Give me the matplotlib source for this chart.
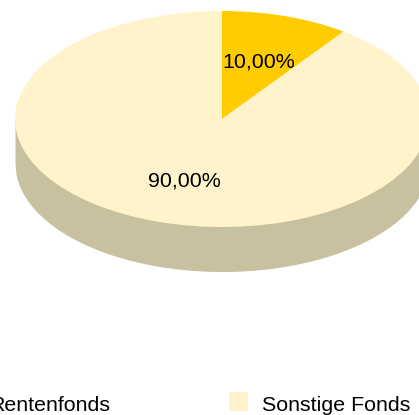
import matplotlib
matplotlib.use('Agg')
import matplotlib.pyplot as plt
import numpy as np
from matplotlib.patches import Rectangle

labels = ['Rentenfonds', 'Sonstige Fonds']
values = [10.0, 90.0]
value_labels = ['10,00%', '90,00%']
colors = ['#FFCC00', '#FFF3CC']
side_color = '#C7C1A0'

plt.rcParams['font.family'] = ['Liberation Sans', 'DejaVu Sans']

W, H = 419, 415
cx, cy = 222, 119
rx, ry = 207, 108
depth = 44.5
font_size = 15.4

fig = plt.figure(figsize=(W / 100, H / 100), dpi=100)
ax = fig.add_axes([0, 0, 1, 1])

# side wall, drawn first so the top of the pie sits over it
t = np.linspace(-1, 1, 400)
lower = -np.sqrt(1 - t ** 2)
ax.fill_between(t, lower - depth / ry, 0, color=side_color, lw=0, zorder=1)

wedges, _ = ax.pie(values, colors=colors, startangle=90, counterclock=False,
                   radius=1, center=(0, 0), wedgeprops={'lw': 0, 'zorder': 2})

# pie() resets the limits, so pixel mapping goes after it
ax.set_aspect('auto')
ax.set_xlim(-cx / rx, (W - cx) / rx)
ax.set_ylim((cy - H) / ry, cy / ry)
ax.axis('off')


def px(x, y):
    return (x - cx) / rx, (cy - y) / ry


ax.text(*px(222, 62), value_labels[0], fontsize=font_size, ha='left', va='center', color='black', zorder=3)
ax.text(*px(148, 181), value_labels[1], fontsize=font_size, ha='left', va='center', color='black', zorder=3)

# legend, the first entry runs off the left edge of the picture
x0, y0 = px(229, 411)
ax.add_patch(Rectangle((x0, y0), 19 / rx, 19 / ry, color=colors[1], lw=0, zorder=3))
ax.text(*px(-11, 405.5), labels[0], fontsize=font_size, ha='left', va='center', color='black', clip_on=False)
ax.text(*px(261.5, 405.5), labels[1], fontsize=font_size, ha='left', va='center', color='black', clip_on=False)

fig.savefig('out.png', dpi=100)
